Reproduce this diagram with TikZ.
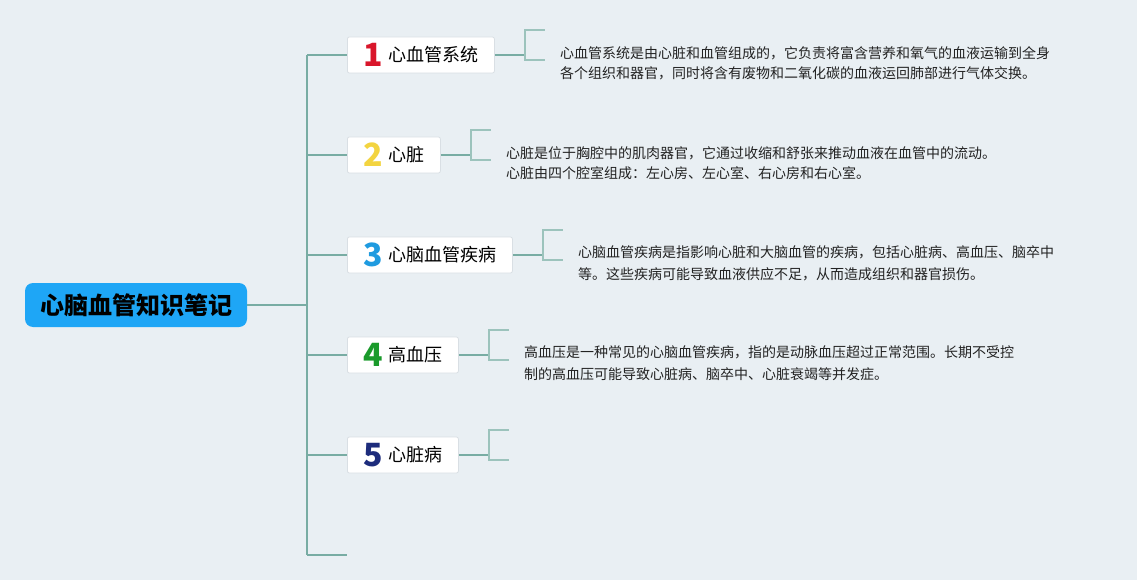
\documentclass[tikz,border=0pt]{standalone}
\usepackage{fontspec}
\setmainfont{Noto Sans CJK SC}
\usetikzlibrary{calc}
\definecolor{bg}{HTML}{E9EFF3}
\definecolor{rootblue}{HTML}{1EA6F6}
\definecolor{linecol}{HTML}{78ACA3}
\definecolor{brcol}{HTML}{9CC3BC}
\definecolor{boxborder}{HTML}{D9DFE4}
\definecolor{numred}{HTML}{D9162B}
\definecolor{numyellow}{HTML}{F3D440}
\definecolor{numblue}{HTML}{1F9BE0}
\definecolor{numgreen}{HTML}{1A9A2B}
\definecolor{numnavy}{HTML}{1D2C7C}
\definecolor{txt}{HTML}{222222}
\newcommand\topiclabel[3]{$\vcenter{\hbox{\color{#1}\fontsize{32}{32}\selectfont\bfseries #2}}$\hspace{6pt}$\vcenter{\hbox{#3}}$}
\begin{document}
\begin{tikzpicture}[x=1pt,y=-1pt,
  rootbox/.style={fill=rootblue, rounded corners=8pt, minimum width=222pt, minimum height=44pt,
    inner sep=0pt, font=\fontsize{24}{24}\selectfont\bfseries, text=black},
  topicbox/.style={fill=white, draw=boxborder, line width=0.8pt, rounded corners=2pt,
    minimum height=36pt, inner xsep=0pt, inner ysep=0pt, anchor=west,
    font=\fontsize{18}{18}\selectfont, text=black},
  trunkline/.style={draw=linecol, line width=1.6pt},
  bracketline/.style={draw=brcol, line width=1.6pt},
  desc/.style={anchor=west, align=left, inner sep=0pt, text=txt},
]
\fill[bg] (0,0) rectangle (1137,580);
\useasboundingbox (0,0) rectangle (1137,580);

% root
\node[rootbox] (root) at (136,305) {心脑血管知识笔记};

% topic boxes
\node[topicbox, minimum width=147pt] (b1) at (347,55) {\topiclabel{numred}{1}{心血管系统}};
\node[topicbox, minimum width=93pt]  (b2) at (347,155) {\topiclabel{numyellow}{2}{心脏}};
\node[topicbox, minimum width=165pt] (b3) at (347,255) {\topiclabel{numblue}{3}{心脑血管疾病}};
\node[topicbox, minimum width=111pt] (b4) at (347,355) {\topiclabel{numgreen}{4}{高血压}};
\node[topicbox, minimum width=111pt] (b5) at (347,455) {\topiclabel{numnavy}{5}{心脏病}};

% trunk
\coordinate (t0) at (307,55);
\coordinate (t6) at (307,555);
\coordinate (s6) at (347,555);
\draw[trunkline] (t0) -- (t6);
\draw[trunkline] (root.east) -- (root.east -| t0);
\foreach \b in {b1,b2,b3,b4,b5}{
  \draw[trunkline] (\b.west -| t0) -- (\b.west);
}
\draw[trunkline] (t6) -- (s6);

% brackets
\foreach \b in {b1,b2,b3,b4,b5}{
  \coordinate (k\b) at ($(\b.east)+(30,0)$);
  \draw[trunkline] (\b.east) -- (k\b);
  \draw[bracketline] ($(k\b)+(20,-25)$) -- ($(k\b)+(0,-25)$) -- ($(k\b)+(0,5)$) -- ($(k\b)+(20,5)$);
}

% descriptions
\node[desc, font=\fontsize{14}{20}\selectfont] (d1) at ($(kb1)+(35,8)$)
  {心血管系统是由心脏和血管组成的，它负责将富含营养和氧气的血液运输到全身\\各个组织和器官，同时将含有废物和二氧化碳的血液运回肺部进行气体交换。};
\node[desc, font=\fontsize{14}{20}\selectfont] (d2) at ($(kb2)+(35,8)$)
  {心脏是位于胸腔中的肌肉器官，它通过收缩和舒张来推动血液在血管中的流动。\\心脏由四个腔室组成：左心房、左心室、右心房和右心室。};
\node[desc, font=\fontsize{14}{22}\selectfont] (d3) at ($(kb3)+(35,8)$)
  {心脑血管疾病是指影响心脏和大脑血管的疾病，包括心脏病、高血压、脑卒中\\等。这些疾病可能导致血液供应不足，从而造成组织和器官损伤。};
\node[desc, font=\fontsize{14}{22}\selectfont] (d4) at ($(kb4)+(35,8)$)
  {高血压是一种常见的心脑血管疾病，指的是动脉血压超过正常范围。长期不受控\\制的高血压可能导致心脏病、脑卒中、心脏衰竭等并发症。};
\end{tikzpicture}
\end{document}
